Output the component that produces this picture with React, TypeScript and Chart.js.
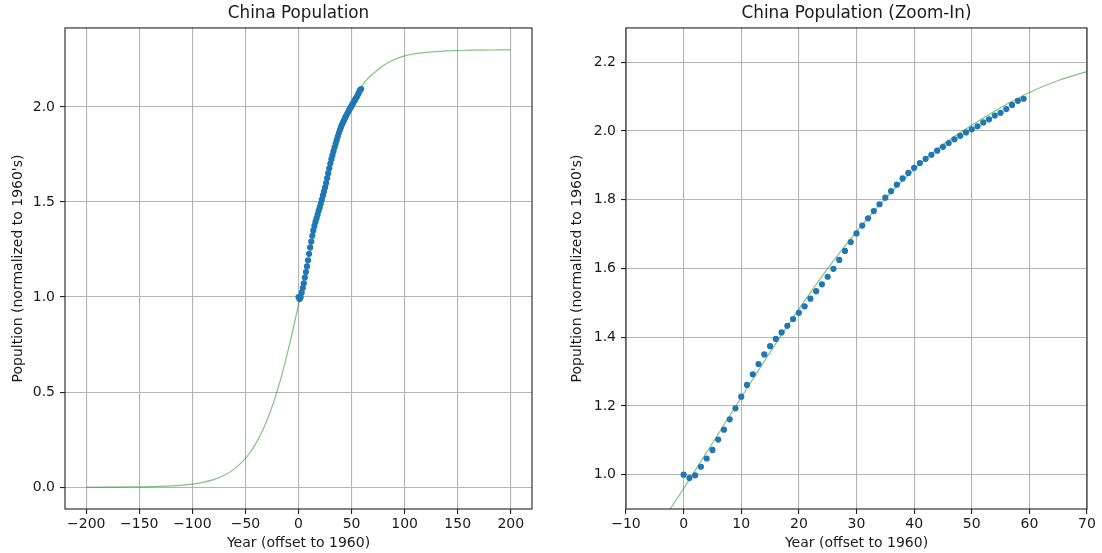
import React, { useEffect, useRef } from 'react';
import { Chart, registerables } from 'chart.js';

Chart.register(...registerables);
Chart.defaults.font.family = "'DejaVu Sans', sans-serif";

const years = [
  0, 1, 2, 3, 4, 5, 6, 7, 8, 9, 10, 11, 12, 13, 14, 15, 16, 17, 18, 19,
  20, 21, 22, 23, 24, 25, 26, 27, 28, 29, 30, 31, 32, 33, 34, 35, 36, 37, 38, 39,
  40, 41, 42, 43, 44, 45, 46, 47, 48, 49, 50, 51, 52, 53, 54, 55, 56, 57, 58, 59,
];

const population = [
  1.0, 0.99, 0.998, 1.023, 1.047, 1.072, 1.102, 1.131, 1.161, 1.193,
  1.227, 1.261, 1.292, 1.322, 1.35, 1.374, 1.395, 1.414, 1.433, 1.453,
  1.471, 1.49, 1.512, 1.534, 1.554, 1.576, 1.599, 1.625, 1.651, 1.677,
  1.702, 1.725, 1.746, 1.767, 1.787, 1.806, 1.825, 1.844, 1.862, 1.878,
  1.893, 1.907, 1.919, 1.931, 1.943, 1.954, 1.965, 1.976, 1.986, 1.996,
  2.005, 2.014, 2.025, 2.034, 2.045, 2.053, 2.064, 2.076, 2.088, 2.094,
];

const fitX = [
  -200, -180, -160, -140, -120, -100, -90, -80, -70, -60, -50, -45, -40, -35, -30,
  -25, -20, -15, -10, -5, 0, 5, 10, 15, 20, 25, 30, 35, 40, 45, 50, 55, 60, 65, 70,
  80, 90, 100, 110, 120, 140, 160, 180, 200,
];

const fitY = [
  0.0002, 0.0004, 0.001, 0.0025, 0.0063, 0.0158, 0.025, 0.0395, 0.0623, 0.0975,
  0.1512, 0.1875, 0.2315, 0.2844, 0.3475, 0.4217, 0.5075, 0.6051, 0.714, 0.833,
  0.9598, 1.0914, 1.2246, 1.3559, 1.4819, 1.5997, 1.7074, 1.8035, 1.8879, 1.9606,
  2.017, 2.068, 2.112, 2.147, 2.173, 2.218, 2.248, 2.268, 2.28, 2.287, 2.295,
  2.298, 2.299, 2.2997,
];

const leftXTicks = [-200, -150, -100, -50, 0, 50, 100, 150, 200];
const leftYTicks = [0, 0.5, 1.0, 1.5, 2.0];
const rightXTicks = [-10, 0, 10, 20, 30, 40, 50, 60, 70];
const rightYTicks = [1.0, 1.2, 1.4, 1.6, 1.8, 2.0, 2.2];

const leftTitle = 'China Population';
const rightTitle = 'China Population (Zoom-In)';
const xLabel = 'Year (offset to 1960)';
const yLabel = "Popultion (normalized to 1960's)";

const TEXT = '#1a1a1a';
const GRID = '#b4b4b4';
const SPINE = '#222';

const frame = {
  id: 'frame',
  afterDatasetsDraw(chart: any) {
    const { ctx, chartArea } = chart;
    const { left, top, right, bottom } = chartArea;
    ctx.save();
    ctx.strokeStyle = SPINE;
    ctx.lineWidth = 1.1;
    ctx.strokeRect(left, top, right - left, bottom - top);
    ctx.restore();
  },
};

const fmtX = (v: number) => (v < 0 ? '\u2212' + Math.abs(v) : String(v));
const fmtY = (v: number) => Number(v).toFixed(1);

function makeConfig(p: any) {
  return {
    type: 'scatter',
    data: {
      datasets: [
        {
          label: 'data',
          data: years.map((x, i) => ({ x, y: population[i] })),
          backgroundColor: '#1f77b4',
          borderWidth: 0,
          pointRadius: 3.1,
          pointHoverRadius: 3.1,
        },
        {
          label: 'fit',
          data: fitX.map((x, i) => ({ x, y: fitY[i] })),
          showLine: true,
          borderColor: 'rgba(0,140,0,0.5)',
          borderWidth: 1.2,
          pointRadius: 0,
          pointHoverRadius: 0,
          fill: false,
          cubicInterpolationMode: 'monotone',
        },
      ],
    },
    options: {
      animation: false,
      responsive: false,
      devicePixelRatio: 1,
      events: [],
      layout: { padding: { left: 0, top: 0, right: p.padRight, bottom: 0 } },
      plugins: {
        legend: { display: false },
        tooltip: { enabled: false },
        title: {
          display: true,
          text: p.title,
          fullSize: false,
          color: TEXT,
          font: { size: 16.8, weight: 'normal' },
          padding: { top: 3.9, bottom: 3.9 },
        },
      },
      scales: {
        x: {
          type: 'linear',
          min: p.xMin,
          max: p.xMax,
          afterBuildTicks: (s: any) => {
            s.ticks = p.xTicks.map((v: number) => ({ value: v }));
          },
          afterFit: (s: any) => {
            s.height = 44;
          },
          ticks: {
            callback: (v: number) => fmtX(v),
            color: TEXT,
            font: { size: 14 },
            padding: 2,
            maxRotation: 0,
            autoSkip: false,
          },
          grid: {
            color: GRID,
            lineWidth: 1.1,
            drawTicks: true,
            tickLength: 5,
            tickColor: SPINE,
            tickWidth: 1.1,
          },
          border: { display: false },
          title: {
            display: true,
            text: xLabel,
            color: TEXT,
            font: { size: 14 },
            padding: { top: 0, bottom: 1.6 },
          },
        },
        y: {
          type: 'linear',
          min: p.yMin,
          max: p.yMax,
          afterBuildTicks: (s: any) => {
            s.ticks = p.yTicks.map((v: number) => ({ value: v }));
          },
          afterFit: (s: any) => {
            s.width = p.yAxisWidth;
          },
          ticks: {
            callback: (v: number) => fmtY(v),
            color: TEXT,
            font: { size: 14 },
            padding: 5,
            autoSkip: false,
          },
          grid: {
            color: GRID,
            lineWidth: 1.1,
            drawTicks: true,
            tickLength: 5,
            tickColor: SPINE,
            tickWidth: 1.1,
          },
          border: { display: false },
          title: {
            display: true,
            text: yLabel,
            color: TEXT,
            font: { size: 14 },
            padding: { top: p.yTitlePad, bottom: 0 },
          },
        },
      },
    },
    plugins: [frame],
  };
}

const leftParams = {
  title: leftTitle,
  xMin: -220,
  xMax: 220,
  yMin: -0.115,
  yMax: 2.415,
  xTicks: leftXTicks,
  yTicks: leftYTicks,
  yAxisWidth: 65,
  padRight: 19,
  yTitlePad: 9.6,
};

const rightParams = {
  title: rightTitle,
  xMin: -10,
  xMax: 70,
  yMin: 0.9,
  yMax: 2.3,
  xTicks: rightXTicks,
  yTicks: rightYTicks,
  yAxisWidth: 75,
  padRight: 15,
  yTitlePad: 17.6,
};

function PopChart({ params, left }: { params: any; left: number }) {
  const ref = useRef<HTMLCanvasElement | null>(null);
  useEffect(() => {
    if (!ref.current) return;
    const chart = new Chart(ref.current, makeConfig(params) as any);
    return () => chart.destroy();
  }, [params]);
  return (
    <canvas
      ref={ref}
      width={551}
      height={553}
      style={{ position: 'absolute', left, top: 0, width: 551, height: 553, display: 'block' }}
    />
  );
}

export default function App() {
  return (
    <div
      style={{
        position: 'fixed',
        left: 0,
        top: 0,
        width: 1102,
        height: 553,
        background: '#ffffff',
        overflow: 'hidden',
      }}
    >
      <PopChart params={leftParams} left={0} />
      <PopChart params={rightParams} left={551} />
    </div>
  );
}
